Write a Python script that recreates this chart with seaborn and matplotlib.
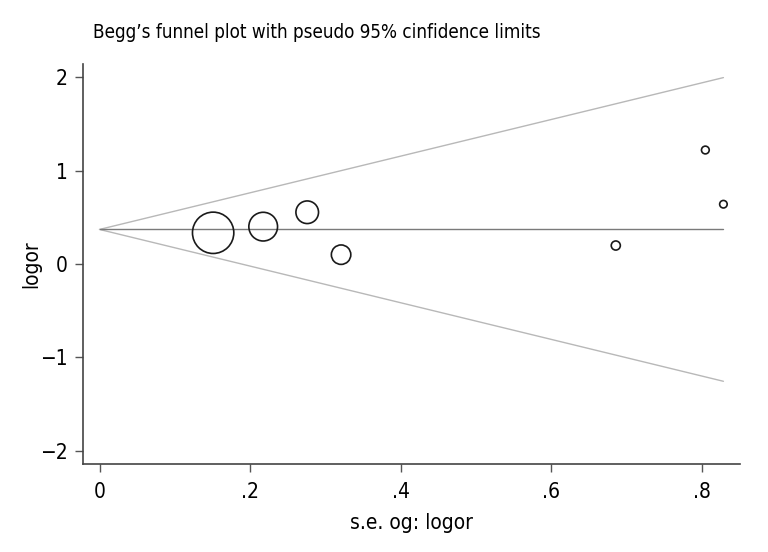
import numpy as np
import pandas as pd
import seaborn as sns
import matplotlib.pyplot as plt
from matplotlib import font_manager

# study estimates
se = [0.151, 0.2175, 0.276, 0.321, 0.686, 0.805, 0.829]
logor = [0.334, 0.40, 0.554, 0.10, 0.198, 1.22, 0.64]
pooled = 0.37

x_ticks = [0, 0.2, 0.4, 0.6, 0.8]
x_ticklabels = ['0', '.2', '.4', '.6', '.8']
y_ticks = [-2, -1, 0, 1, 2]
y_ticklabels = ['\u22122', '\u22121', '0', '1', '2']

sns.set_style('ticks')
names = {f.name for f in font_manager.fontManager.ttflist}
narrow = [n for n in ['Liberation Sans Narrow', 'DejaVu Sans Condensed'] if n in names]
plt.rcParams['font.family'] = narrow + ['DejaVu Sans']
plt.rcParams['font.stretch'] = 'condensed'
for k in ['text.color', 'axes.labelcolor', 'xtick.labelcolor', 'ytick.labelcolor']:
    plt.rcParams[k] = 'black'

df = pd.DataFrame({'se': se, 'logor': logor})
df['w'] = 1 / df['se'] ** 2

# pseudo 95% limits
se_grid = np.array([0, max(se)])
limits = pd.DataFrame({
    'se': np.concatenate([se_grid, se_grid, se_grid]),
    'y': np.concatenate([pooled + 1.96 * se_grid, pooled - 1.96 * se_grid,
                         np.full(2, pooled)]),
    'line': ['upper'] * 2 + ['lower'] * 2 + ['pooled'] * 2,
})

fig = plt.figure(figsize=(7.68, 5.52), dpi=100)
ax = fig.add_axes([0.108, 0.1594, 0.8555, 0.7246])

sns.lineplot(data=limits, x='se', y='y', hue='line',
             palette={'upper': '#b8b8b8', 'lower': '#b8b8b8', 'pooled': '#7a7a7a'},
             linewidth=1, legend=False, ax=ax)
ax.scatter(df['se'], df['logor'], s=20.2 * df['w'], facecolors='none',
           edgecolors='#1a1a1a', linewidths=1.2, zorder=3)

ax.set_xlim(-0.022, 0.851)
ax.set_ylim(-2.14, 2.14)
ax.set_xticks(x_ticks, x_ticklabels)
ax.set_yticks(y_ticks, y_ticklabels)
ax.tick_params(labelsize=15, length=6, width=1, color='#555555', pad=5)
ax.tick_params(axis='x', pad=7)
for s in ['left', 'bottom']:
    ax.spines[s].set_color('#444444')
    ax.spines[s].set_linewidth(1.2)
sns.despine(ax=ax)

ax.set_xlabel('s.e. og: logor', fontsize=15, labelpad=8)
ax.set_ylabel('logor', fontsize=15, labelpad=-1)
fig.text(0.121, 0.942, 'Begg\u2019s funnel plot with pseudo 95% cinfidence limits',
         fontsize=13.5, va='center', ha='left')

fig.savefig('out.png', dpi=100)
